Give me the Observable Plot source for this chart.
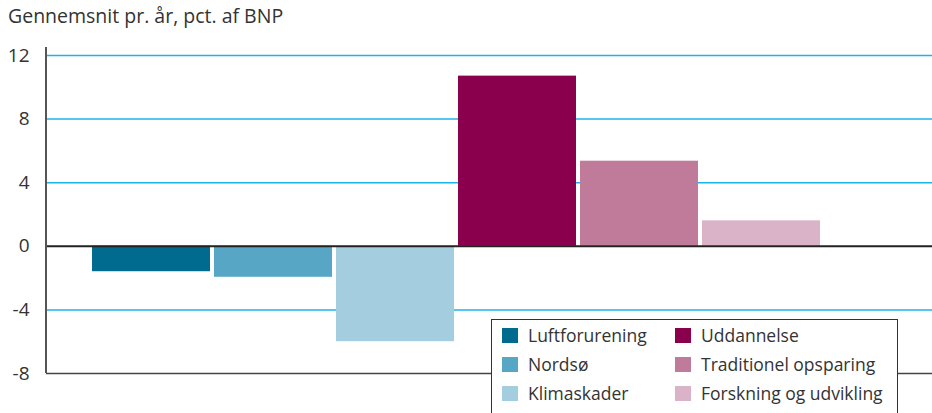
<!DOCTYPE html>
<html>
<head>
<meta charset="utf-8">
<script src="https://cdn.jsdelivr.net/npm/d3@7"></script>
<script src="https://cdn.jsdelivr.net/npm/@observablehq/plot@0.6"></script>
<style>
  html, body { margin: 0; padding: 0; background: #fff; width: 932px; height: 413px; overflow: hidden; }
  body { position: relative; font-family: "Open Sans", sans-serif; color: #333; }
  #title { position: absolute; left: 8px; top: 3px; font-size: 19.5px; line-height: 26px; color: #333; white-space: nowrap; }
  #chart { position: absolute; left: 0; top: 38px; }
  #legend { position: absolute; left: 491px; top: 319px; width: 407px; height: 110px; background: #fff; border: 1px solid #333; box-sizing: border-box; }
  .item { position: absolute; font-size: 17.5px; line-height: 20px; color: #333; white-space: nowrap; }
  .sw { position: absolute; width: 16px; height: 15px; }
  .lab { position: absolute; left: 26px; top: -3px; }
</style>
</head>
<body>
<div id="title">Gennemsnit pr. år, pct. af BNP</div>
<div id="chart"></div>
<div id="legend"></div>
<script>
const categories = ["Luftforurening", "Nordsø", "Klimaskader", "Uddannelse", "Traditionel opsparing", "Forskning og udvikling"];
const values = [-1.6, -1.95, -6.0, 10.7, 5.35, 1.6];
const colors = ["#006a8f", "#58a6c6", "#a5cde0", "#8b004c", "#c07a9a", "#dbb3c8"];
const yTicks = [-8, -4, 0, 4, 8, 12];
const gridValues = [12, 8, 4, -4];

const data = categories.map((c, i) => ({category: c, value: values[i]}));

const chart = Plot.plot({
  width: 932,
  height: 375,
  marginLeft: 46,
  marginRight: 0,
  marginTop: 9,
  marginBottom: 40,
  style: {fontFamily: "Open Sans, sans-serif", fontSize: "19px", color: "#333", background: "#fff"},
  x: {domain: categories, range: [91, 820], paddingInner: 0.033, paddingOuter: 0, axis: null},
  y: {domain: [-8, 12.5], axis: null},
  color: {domain: categories, range: colors},
  marks: [
    Plot.ruleY(gridValues, {stroke: "#1ab4e8", strokeWidth: 1.5}),
    Plot.barY(data, {x: "category", y: "value", fill: "category"}),
    Plot.ruleY([0], {stroke: "#222", strokeWidth: 2}),
    Plot.ruleY([-8], {stroke: "#444", strokeWidth: 1.5}),
    Plot.axisY({ticks: yTicks, tickSize: 0, tickPadding: 17, tickFormat: d => String(d), label: null, fontSize: 19, fill: "#333"})
  ]
});
document.getElementById("chart").append(chart);

// left axis line spanning the y scale's domain
const ys = chart.scale("y");
const svgNS = "http://www.w3.org/2000/svg";
const axisLine = document.createElementNS(svgNS, "line");
axisLine.setAttribute("x1", 46); axisLine.setAttribute("x2", 46);
axisLine.setAttribute("y1", ys.apply(ys.domain[1])); axisLine.setAttribute("y2", ys.apply(ys.domain[0]));
axisLine.setAttribute("stroke", "#555"); axisLine.setAttribute("stroke-width", 2);
chart.appendChild(axisLine);

const legend = document.getElementById("legend");
const positions = [[10, 8], [10, 37], [10, 66], [183, 8], [183, 37], [183, 66]];
categories.forEach((c, i) => {
  const it = document.createElement("div");
  it.className = "item";
  it.style.left = positions[i][0] + "px";
  it.style.top = positions[i][1] + "px";
  const sw = document.createElement("div");
  sw.className = "sw";
  sw.style.background = colors[i];
  const lab = document.createElement("div");
  lab.className = "lab";
  lab.textContent = c;
  it.append(sw, lab);
  legend.append(it);
});
</script>
</body>
</html>
